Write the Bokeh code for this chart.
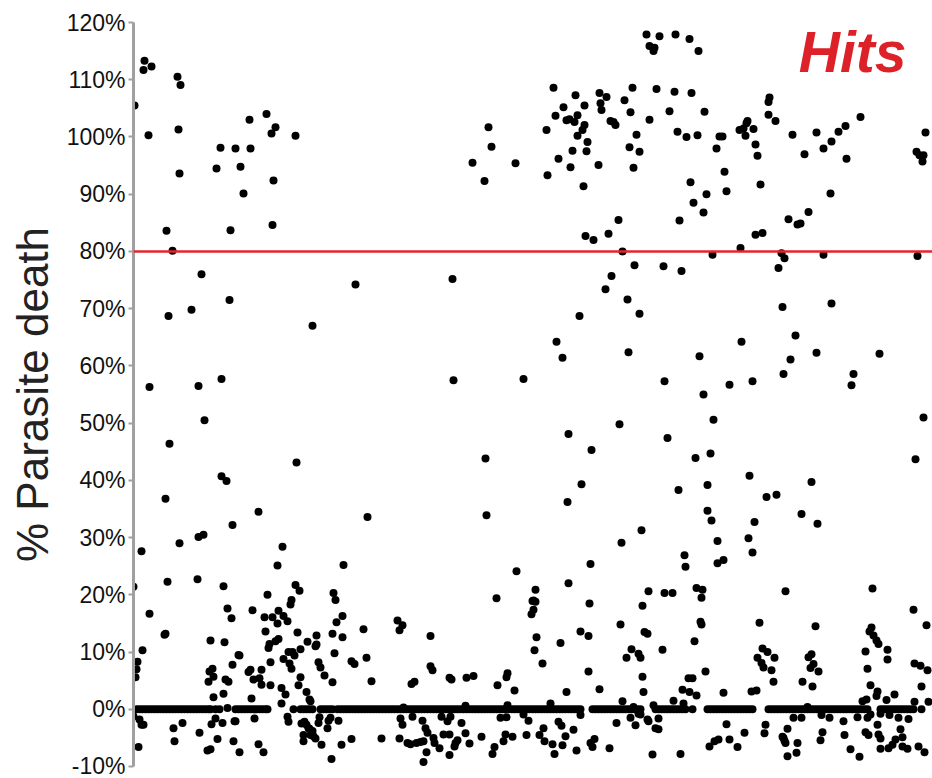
from bokeh.plotting import figure
from bokeh.models import Range1d, FixedTicker, PrintfTickFormatter, Span, ColumnDataSource
from bokeh.core.properties import value
from bokeh.embed import file_html
from bokeh.resources import INLINE

# compound index (screening order) and % parasite death
high_pts = [  # >= ~50 %
    (1, 105.5), (10, 111.7), (11, 113.3), (18, 112.3), (15, 100.3), (44, 110.5), (47, 109.1), (45, 101.3),
    (46, 93.6), (33, 83.6), (39, 80.1), (68, 76.0), (58, 69.8), (35, 68.7), (96, 71.5), (16, 56.3),
    (65, 56.5), (88, 57.7), (179, 67.0), (222, 74.2), (83, 94.5), (87, 98.1), (102, 98.0), (117, 98.0),
    (107, 94.8), (110, 90.1), (116, 103.0), (133, 104.0), (138, 100.6), (142, 101.7), (162, 100.2),
    (140, 92.4), (139, 84.6), (97, 83.7),
    (513, 117.9), (516, 115.9), (420, 108.6), (442, 107.3), (466, 107.7), (473, 107.0), (499, 108.6),
    (430, 105.2), (451, 105.5), (467, 105.9), (468, 104.7), (491, 106.4), (497, 104.3), (422, 103.7),
    (433, 102.9), (436, 103.1), (441, 102.6), (444, 103.8), (451, 102.1), (449, 101.2), (444, 100.2),
    (477, 102.8), (480, 102.6), (482, 102.1), (413, 101.2), (516, 103.0), (503, 100.4), (454, 99.1),
    (439, 97.6), (453, 97.5), (496, 98.2), (506, 97.4), (425, 96.2), (437, 94.7), (465, 95.1),
    (500, 94.6), (414, 93.3), (450, 91.4), (355, 101.7), (358, 98.3), (339, 95.5), (382, 95.4),
    (351, 92.3), (485, 85.5), (452, 82.7), (460, 82.0), (475, 83.1), (489, 80.0), (501, 77.6),
    (478, 75.7), (472, 73.4), (494, 71.6), (506, 69.1), (446, 68.7), (319, 75.2), (423, 64.2),
    (429, 61.4), (495, 62.4), (320, 57.5), (390, 57.7),
    (526, 117.6), (542, 117.9), (556, 117.1), (565, 115.0), (520, 115.0), (521, 115.6), (523, 108.4),
    (541, 107.9), (558, 107.7), (536, 104.5), (571, 104.4), (544, 100.9), (553, 100.0), (564, 100.3),
    (583, 98.0), (586, 100.1), (589, 100.1), (606, 101.2), (610, 101.5), (614, 102.8), (613, 102.4),
    (620, 101.4), (612, 100.2), (622, 98.7), (624, 96.7), (636, 106.9), (635, 106.1), (635, 103.9),
    (642, 102.8), (659, 100.4), (671, 97.0), (683, 100.8), (690, 98.0), (698, 99.2), (705, 100.9),
    (712, 101.9), (713, 96.2), (727, 103.5), (792, 100.8), (783, 97.4), (786, 96.8), (790, 96.8),
    (789, 95.7), (591, 93.9), (557, 92.1), (593, 90.5), (627, 91.7), (573, 90.0), (560, 88.5),
    (570, 86.8), (546, 85.4), (697, 90.1), (675, 86.9), (655, 85.6), (664, 84.7), (667, 84.9),
    (622, 82.9), (629, 83.2), (607, 80.6), (579, 79.4), (648, 79.7), (651, 78.8), (645, 77.1),
    (690, 79.4), (784, 79.2), (530, 77.4), (548, 76.6), (649, 70.3), (698, 70.9), (662, 65.3),
    (608, 64.2), (683, 62.3), (746, 62.1), (566, 61.7), (657, 61.1), (531, 57.3), (596, 56.7),
    (619, 57.3), (650, 58.6), (720, 58.6), (718, 56.6), (570, 55.0),
]

mid_pts = [  # ~19 % to ~51 %
    (71, 50.5), (36, 46.4), (163, 43.1), (88, 40.7), (93, 39.9), (32, 36.8), (125, 34.5), (234, 33.6),
    (99, 32.2), (65, 30.1), (70, 30.5), (46, 29.0), (8, 27.6), (149, 28.4), (144, 25.1), (210, 25.2),
    (34, 22.3), (64, 22.7), (90, 21.5), (0, 21.4), (162, 21.7), (166, 20.7), (134, 20.0), (200, 20.3),
    (202, 19.1), (158, 19.1),
    (486, 49.8), (435, 48.1), (458, 45.3), (352, 43.8), (448, 39.3), (434, 36.2), (353, 33.9),
    (508, 31.3), (488, 29.1), (457, 25.4), (383, 24.1), (435, 22.0), (402, 20.9), (363, 19.4),
    (400, 19.0), (515, 20.6),
    (580, 50.6), (534, 47.4), (562, 43.9), (577, 44.7), (790, 51.0), (782, 43.7), (616, 40.8),
    (678, 39.7), (545, 38.3), (574, 39.2), (633, 37.1), (643, 37.5), (574, 34.7), (578, 33.0),
    (621, 32.7), (668, 34.1), (684, 32.4), (584, 29.4), (615, 29.9), (619, 27.4), (551, 26.9),
    (552, 24.9), (584, 25.5), (590, 26.1), (531, 20.3), (539, 20.3), (563, 21.2), (569, 20.9),
    (568, 19.5), (652, 20.6), (739, 21.1),
]

low_left_pts = [  # near the 0 % band, left part
    (16, 16.7), (31, 13.0), (32, 13.2), (9, 10.3), (4, 8.3), (3, 7.0), (2, 5.6), (77, 12.0),
    (94, 17.6), (98, 15.9), (91, 11.7), (105, 9.5), (99, 7.8), (76, 6.6), (79, 7.1), (80, 5.7),
    (75, 4.8), (92, 5.2), (95, 4.8), (90, 2.7), (80, 2.1), (94, 0.2), (0, -1.2), (6, -1.8),
    (8, -2.7), (10, -2.7), (40, -3.3), (49, -2.4), (41, -5.6), (66, -4.1), (82, -1.6), (78, -2.6),
    (89, -2.4), (101, -2.1), (84, -5.2), (100, -5.6), (5, -6.6), (74, -7.2), (77, -7.0), (106, -7.5),
    (157, 18.3), (119, 17.3), (131, 16.1), (139, 16.1), (145, 17.2), (150, 16.3), (154, 15.4),
    (144, 15.0), (209, 16.3), (203, 15.2), (230, 14.0), (132, 13.6), (164, 13.4), (183, 12.9),
    (199, 13.2), (209, 12.6), (145, 12.3), (142, 11.9), (136, 11.4), (135, 10.7), (174, 11.8),
    (183, 11.3), (182, 11.0), (106, 9.4), (167, 10.5), (155, 10.0), (159, 10.0), (161, 9.4),
    (150, 8.8), (201, 9.8), (218, 8.4), (221, 7.9), (233, 9.0), (137, 8.2), (156, 8.0), (158, 7.1),
    (185, 8.2), (187, 7.3), (117, 6.9), (115, 6.5), (128, 6.9), (120, 5.2), (126, 5.4), (128, 4.3),
    (167, 5.6), (191, 5.9), (199, 4.7), (238, 4.9), (137, 4.2), (148, 3.7), (165, 4.2), (152, 2.6),
    (173, 3.0), (118, 1.9), (176, 1.7), (177, 1.4), (148, 1.0), (121, -1.6), (102, -2.1), (154, -1.3),
    (155, -2.2), (186, -1.4), (185, -2.4), (197, -1.5), (195, -2.0), (205, -2.0), (168, -2.5),
    (171, -2.2), (173, -2.7), (176, -3.4), (175, -3.3), (179, -3.8), (180, -4.7), (182, -5.1),
    (177, -4.5), (170, -4.5), (194, -3.3), (170, -5.6), (188, -6.2), (125, -6.1), (208, -6.2),
    (218, -5.2), (130, -7.5), (198, -8.7),
]

low_mid_pts = [  # near the 0 % band, middle part
    (264, 15.5), (269, 14.7), (266, 13.8), (297, 12.8), (297, 7.5), (299, 6.8), (278, 4.4), (281, 4.8),
    (316, 5.5), (318, 5.2), (333, 5.5), (340, 5.8), (364, 4.2), (374, 6.3), (373, 5.6), (270, 0.3),
    (332, 0.6), (374, 0.7), (267, -1.6), (269, -2.7), (279, -1.3), (289, -2.0), (308, -1.3),
    (317, -1.3), (314, -2.1), (328, -2.4), (367, -1.5), (373, -1.4), (292, -3.3), (294, -4.1),
    (310, -4.4), (316, -4.4), (332, -4.2), (248, -5.1), (266, -5.1), (274, -5.9), (277, -6.1),
    (283, -5.9), (287, -5.7), (290, -5.6), (300, -5.0), (301, -5.9), (324, -5.4), (322, -5.9),
    (321, -6.5), (336, -6.0), (348, -4.8), (372, -4.4), (370, -5.6), (306, -6.8), (293, -7.5),
    (316, -8.0), (361, -6.6), (359, -7.8), (290, -9.2),
    (399, 18.9), (402, 18.8), (400, 17.4), (398, 16.6), (456, 18.5), (509, 18.1), (403, 12.6),
    (427, 11.6), (447, 13.6), (455, 12.8), (487, 14.8), (511, 13.5), (401, 10.3), (409, 8.0),
    (498, 10.5), (493, 9.0), (505, 9.7), (507, 9.0), (455, 6.6), (381, 3.3), (433, 3.0), (466, 3.5),
    (509, 5.7), (510, 3.0), (417, 1.0), (489, 1.4), (500, 0.4), (447, -1.0), (390, -0.9),
    (395, -2.0), (483, -2.4), (497, -1.5), (502, -2.8), (505, -0.8), (410, -3.3), (425, -2.2),
    (428, -2.9), (440, -3.6), (379, -4.8), (393, -4.5), (406, -4.5), (411, -5.6), (432, -4.7),
    (419, -6.1), (429, -6.3), (461, -5.2), (457, -5.9), (459, -6.6), (476, -6.8), (443, -7.2),
    (421, -7.8),
]

low_right_pts = [  # near the 0 % band, right part
    (626, 15.1), (567, 15.3), (568, 14.8), (514, 13.2), (561, 11.9), (529, 10.4), (629, 10.6),
    (634, 10.0), (624, 9.0), (628, 8.1), (630, 7.3), (641, 9.0), (638, 6.8), (640, 4.8), (572, 6.6),
    (555, 5.4), (559, 5.4), (549, 3.4), (556, 3.0), (563, 2.4), (590, 2.9), (618, 3.1), (623, 3.3),
    (540, 1.5), (550, 1.0), (520, 0.7), (507, -0.9), (514, -1.8), (515, -2.1), (525, -1.6),
    (522, -3.3), (525, -3.5), (593, -2.6), (632, -2.7), (611, -4.1), (631, -4.2), (596, -5.3),
    (576, -6.5), (581, -5.6), (585, -5.3), (604, -6.6), (649, -4.8), (651, -5.5), (519, -7.9),
    (547, -7.8),
    (780, 17.4), (793, 14.7), (682, 14.5), (738, 14.3), (736, 13.6), (740, 12.9), (743, 12.0),
    (745, 11.4), (754, 10.4), (754, 8.7), (732, 10.1), (678, 9.6), (675, 9.1), (680, 7.9), (677, 7.2),
    (685, 6.6), (734, 7.1), (781, 8.0), (787, 7.6), (794, 6.8), (669, 4.8), (679, 4.0), (737, 4.2),
    (744, 3.1), (743, 2.3), (788, 4.0), (761, 2.6), (753, 1.6), (729, 1.4), (733, 1.7), (781, 1.3),
    (795, 1.3), (674, 0.4), (660, -1.5), (668, -1.5), (688, -1.0), (696, -1.5), (710, -2.1),
    (724, -1.4), (737, -0.9), (734, -1.5), (747, -0.8), (756, -1.0), (765, -1.5), (775, -1.7),
    (744, -2.7), (654, -3.4), (650, -5.0), (652, -5.9), (689, -4.0), (687, -5.4), (711, -4.5),
    (732, -4.0), (735, -4.5), (745, -4.4), (747, -5.1), (767, -3.5), (769, -4.9), (762, -5.3),
    (759, -6.2), (755, -6.8), (747, -6.9), (769, -6.5), (774, -6.9), (785, -6.5), (791, -7.5),
    (664, -5.9), (663, -7.6), (654, -8.2), (717, -7.0), (726, -8.3),
]

# compounds with exactly 0 % parasite death
zero_idx = [
    3, 6, 9, 12, 15, 18, 21, 24, 27, 30, 33, 36, 39, 42, 45, 48, 51, 54, 57, 60, 63, 66, 69, 72, 75, 77,
    82, 86, 102, 105, 108, 111, 114, 117, 120, 123, 126, 129, 132, 134, 160, 167, 170, 173, 176, 179,
    187, 190, 193, 196, 199,
    204, 207, 210, 213, 216, 219, 222, 225, 228, 231, 234, 237, 240, 243, 246, 249, 252, 255, 258,
    261, 264, 267, 270, 273, 276, 279, 282, 285, 288, 291, 294, 297, 300, 303, 306, 309, 312, 315,
    318, 321, 324, 327, 330, 333, 336, 339, 342, 345, 348, 351, 354, 357, 360, 363, 366, 369, 372,
    375, 378, 381, 384, 387, 390, 393, 396, 399, 402, 405, 408, 411, 414, 417, 420, 423, 426, 429,
    432, 435, 438, 441, 444, 447,
    459, 462, 465, 468, 471, 474, 477, 480, 483, 486, 489, 492, 495, 498, 501, 504, 507,
    522, 525, 528, 531, 534, 537, 540, 543, 546, 549, 552, 559,
    574, 577, 580, 583, 586, 589, 592, 595, 598, 601, 604, 607, 610, 613, 616, 619,
    635, 638, 641, 644, 647, 650, 653, 656, 659, 662, 665, 668, 671, 674, 677, 680, 683, 686, 689,
    692, 695, 698, 701, 704, 707, 710, 713, 716, 719, 722, 725, 728, 731, 734,
    747, 750, 753, 756, 759, 762, 765, 768, 771, 774, 777, 780, 788,
]

hit_threshold = 80
y_ticks = [-10, 0, 10, 20, 30, 40, 50, 60, 70, 80, 90, 100, 110, 120]

pts = high_pts + mid_pts + low_left_pts + low_mid_pts + low_right_pts
xs = [a for a, _ in pts] + list(zero_idx)
ys = [b for _, b in pts] + [0.0] * len(zero_idx)
src = ColumnDataSource(data=dict(x=xs, y=ys))

p = figure(width=932, height=778, x_range=Range1d(0, 799), y_range=Range1d(-10, 120),
           output_backend="svg", toolbar_location=None,
           min_border_left=133, min_border_right=0, min_border_top=22, min_border_bottom=12)
p.outline_line_color = None
p.grid.visible = False
p.xaxis.visible = False
p.background_fill_color = "white"
p.border_fill_color = "white"

ax = p.yaxis[0]
ax.ticker = FixedTicker(ticks=y_ticks)
ax.formatter = PrintfTickFormatter(format="%d%%")
ax.axis_line_color = "#a0a0a0"
ax.axis_line_width = 3
ax.major_tick_line_color = "#a0a0a0"
ax.major_tick_line_width = 2
ax.major_tick_out = 5
ax.major_tick_in = 0
ax.minor_tick_line_color = None
ax.major_label_text_font = "Liberation Sans"
ax.major_label_text_font_size = "23px"
ax.major_label_text_color = "#111111"
ax.major_label_standoff = 3
ax.axis_label = "% Parasite death"
ax.axis_label_text_font = "Liberation Sans"
ax.axis_label_text_font_size = "44px"
ax.axis_label_text_font_style = "normal"
ax.axis_label_text_color = "#222222"
ax.axis_label_standoff = 7

p.add_layout(Span(location=hit_threshold, dimension="width", line_color="#e3262c", line_width=2.5))

p.scatter("x", "y", source=src, size=8, fill_color="black", line_color="black", line_width=0)

p.text(x=[773], y=[114.9], text=["Hits"], text_font=value("Liberation Sans"), text_font_size="57px",
       text_font_style="bold italic", text_color="#dc2128", text_align="right", text_baseline="alphabetic")

open("out.html", "w").write(file_html(p, INLINE))
